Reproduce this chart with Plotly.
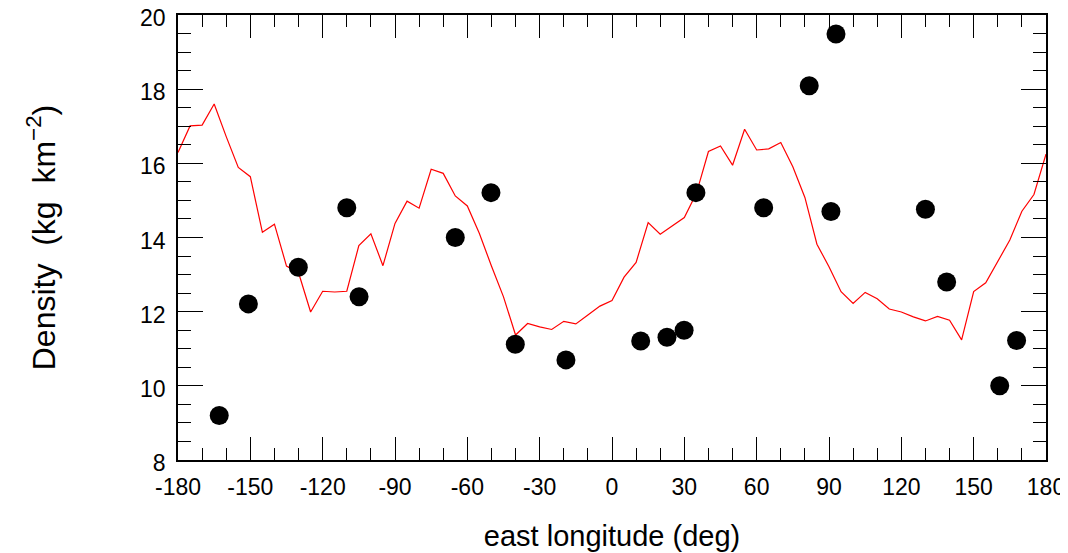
import plotly.graph_objects as go

# Model curve (5-degree grid)
lon_model = [-180, -175, -170, -165, -160, -155, -150, -145, -140, -135, -130, -125,
             -120, -115, -110, -105, -100, -95, -90, -85, -80, -75, -70, -65,
             -60, -55, -50, -45, -40, -35, -30, -25, -20, -15, -10, -5,
             0, 5, 10, 15, 20, 25, 30, 35, 40, 45, 50, 55,
             60, 65, 70, 75, 80, 85, 90, 95, 100, 105, 110, 115,
             120, 125, 130, 135, 140, 145, 150, 155, 160, 165, 170, 175, 180]
density_model = [16.29, 17.01, 17.03, 17.60, 16.72, 15.89, 15.64, 14.14, 14.36, 13.23, 13.05, 11.99,
                 12.55, 12.53, 12.55, 13.78, 14.10, 13.24, 14.38, 14.98, 14.79, 15.84, 15.73, 15.12,
                 14.85, 14.11, 13.23, 12.40, 11.37, 11.68, 11.59, 11.52, 11.74, 11.67, 11.91, 12.15,
                 12.30, 12.93, 13.33, 14.40, 14.09, 14.32, 14.54, 15.19, 16.32, 16.47, 15.95, 16.92,
                 16.36, 16.39, 16.56, 15.91, 15.08, 13.82, 13.21, 12.54, 12.22, 12.52, 12.35, 12.07,
                 11.99, 11.86, 11.75, 11.87, 11.77, 11.24, 12.54, 12.78, 13.37, 13.93, 14.71, 15.16, 16.25]

# Observed points
lon_obs = [-162.9, -150.8, -130.1, -110.0, -104.9, -65.0, -50.2, -40.1, -19.1, 11.9, 22.8,
           29.9, 34.8, 62.9, 81.8, 90.8, 92.9, 130.0, 138.8, 160.8, 167.8]
density_obs = [9.20, 12.21, 13.20, 14.80, 12.40, 14.00, 15.21, 11.12, 10.70, 11.21, 11.31,
               11.50, 15.21, 14.80, 18.09, 14.70, 19.49, 14.76, 12.80, 10.00, 11.22]

x_tickvals = [-180, -150, -120, -90, -60, -30, 0, 30, 60, 90, 120, 150, 180]
x_ticktext = ["-180", "-150", "-120", "-90", "-60", "-30", "0", "30", "60", "90", "120", "150", "180"]
y_tickvals = [8, 10, 12, 14, 16, 18, 20]
y_ticktext = ["8", "10", "12", "14", "16", "18", "20"]

FONT = "Liberation Sans, Arial, Helvetica, sans-serif"

fig = go.Figure()
fig.add_trace(go.Scatter(x=lon_model, y=density_model, mode="lines",
                         line=dict(color="#ff0000", width=1.2), hoverinfo="skip"))
fig.add_trace(go.Scatter(x=lon_obs, y=density_obs, mode="markers",
                         marker=dict(color="black", size=19, line=dict(width=0))))

axis_common = dict(
    showgrid=False, zeroline=False, showline=True, linecolor="black", linewidth=1.5,
    mirror="ticks", ticks="inside", tickcolor="black", tickwidth=1.2, automargin=False,
    ticklabeloverflow="allow",
    tickfont=dict(family=FONT, size=23, color="black"),
)

fig.update_xaxes(
    range=[-180, 180], tickmode="array", tickvals=x_tickvals, ticktext=x_ticktext,
    ticklen=23, ticklabelstandoff=6,
    minor=dict(ticks="inside", dtick=10, ticklen=12, tickcolor="black", tickwidth=1.2),
    title=dict(text="east longitude (deg)", font=dict(family=FONT, size=29, color="black"),
               standoff=26),
    **axis_common,
)
fig.update_yaxes(
    range=[8, 20], tickmode="array", tickvals=y_tickvals, ticktext=y_ticktext,
    ticklen=25, ticklabelstandoff=6, ticklabelshift=3,
    minor=dict(ticks="inside", dtick=0.5, ticklen=13, tickcolor="black", tickwidth=1.2),
    title=dict(text="Density\u00a0\u00a0(kg\u00a0\u00a0km<sup>\u22122</sup>)",
               font=dict(family=FONT, size=32, color="black"), standoff=75),
    **axis_common,
)

# page body adds an 8px margin, so the figure is sized/offset to compensate
fig.update_layout(
    width=1060, height=545,
    margin=dict(l=170, r=22, t=7, b=93),
    plot_bgcolor="white", paper_bgcolor="white",
    showlegend=False,
)

fig.write_html("out.html")
